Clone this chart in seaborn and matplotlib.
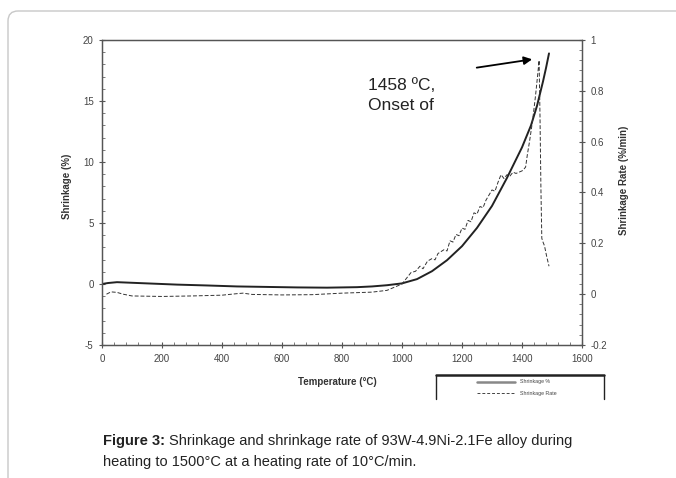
import numpy as np
import pandas as pd
import matplotlib
matplotlib.use("Agg")
import matplotlib.pyplot as plt
from matplotlib.patches import FancyBboxPatch
from matplotlib.lines import Line2D
from matplotlib.ticker import MultipleLocator
import seaborn as sns

# shrinkage curve (solid, left axis)
shrink_temp = [0, 20, 50, 80, 150, 250, 350, 450, 550, 650, 750, 850, 900, 950,
               1000, 1050, 1100, 1150, 1200, 1250, 1300, 1350, 1400, 1430, 1450,
               1460, 1470, 1480, 1490]
shrink_pct = [0.0, 0.08, 0.15, 0.12, 0.05, -0.05, -0.12, -0.2, -0.24, -0.28, -0.3,
              -0.26, -0.2, -0.1, 0.05, 0.4, 1.05, 1.95, 3.1, 4.6, 6.4, 8.7, 11.2,
              13.0, 14.6, 15.6, 16.6, 17.7, 18.9]

# shrinkage rate curve (dashed, right axis)
rate_temp = [15, 30, 50, 70, 100, 150, 200, 300, 400, 450, 470, 500, 600, 700, 800,
             850, 900, 950, 1000, 1020, 1030, 1045, 1060, 1070, 1085, 1100, 1110,
             1120, 1140, 1150, 1160, 1170, 1180, 1190, 1200, 1210, 1220, 1230, 1240,
             1250, 1260, 1270, 1280, 1290, 1300, 1310, 1320, 1330, 1340, 1350, 1360,
             1370, 1380, 1390, 1400, 1405, 1412, 1418, 1425, 1435, 1445, 1452, 1457,
             1460, 1463, 1466, 1470, 1475, 1482, 1490]
rate_val = [0.0, 0.009, 0.007, 0.0, -0.007, -0.008, -0.009, -0.007, -0.004, 0.002,
            0.004, -0.001, -0.003, -0.002, 0.004, 0.006, 0.008, 0.015, 0.04, 0.07,
            0.085, 0.09, 0.11, 0.10, 0.13, 0.14, 0.135, 0.16, 0.175, 0.17, 0.21,
            0.205, 0.235, 0.23, 0.26, 0.255, 0.29, 0.285, 0.32, 0.315, 0.345, 0.34,
            0.37, 0.39, 0.41, 0.405, 0.44, 0.47, 0.455, 0.47, 0.465, 0.48, 0.475,
            0.48, 0.485, 0.49, 0.50, 0.55, 0.60, 0.68, 0.78, 0.86, 0.92, 0.70, 0.42,
            0.22, 0.205, 0.19, 0.15, 0.11]

legend_labels = ["Shrinkage %", "Shrinkage Rate"]
caption_bold = "Figure 3:"
caption_line1 = "Shrinkage and shrinkage rate of 93W-4.9Ni-2.1Fe alloy during"
caption_line2 = "heating to 1500°C at a heating rate of 10°C/min."

shrink_df = pd.DataFrame({"temp": shrink_temp, "shrink": shrink_pct})
rate_df = pd.DataFrame({"temp": rate_temp, "rate": rate_val})

sns.set_style("ticks")
plt.rcParams["font.family"] = ["Liberation Sans", "DejaVu Sans"]
plt.rcParams["axes.unicode_minus"] = False

fig = plt.figure(figsize=(6.76, 4.78), dpi=100)
ax = fig.add_axes([102 / 676, 1 - 345 / 478, 480 / 676, 305 / 478])
ax2 = ax.twinx()

sns.lineplot(data=shrink_df, x="temp", y="shrink", ax=ax, color="#222222",
             linewidth=1.4, estimator=None, sort=False)
sns.lineplot(data=rate_df, x="temp", y="rate", ax=ax2, color="#333333",
             linewidth=0.7, linestyle=(0, (4, 2)), estimator=None, sort=False)

ax.set_xlim(0, 1600)
ax.set_ylim(-5, 20)
ax2.set_ylim(-0.2, 1.0)
ax.set_xticks(np.arange(0, 1601, 200))
ax.set_yticks(np.arange(-5, 21, 5))
ax2.set_yticks([-0.2, 0, 0.2, 0.4, 0.6, 0.8, 1])
ax2.set_yticklabels(["-0.2", "0", "0.2", "0.4", "0.6", "0.8", "1"])
ax.xaxis.set_minor_locator(MultipleLocator(40))
ax.yaxis.set_minor_locator(MultipleLocator(1))
ax2.yaxis.set_minor_locator(MultipleLocator(0.04))

for a in (ax, ax2):
    for s in a.spines.values():
        s.set_visible(True)
        s.set_color("#555555")
        s.set_linewidth(0.9)
    a.tick_params(which="major", direction="inout", length=5, width=0.8,
                  colors="#555555", labelsize=7, labelcolor="#444444")
    a.tick_params(which="minor", direction="in", length=2.5, width=0.6,
                  colors="#666666")
ax.tick_params(axis="x", pad=4)

ax.set_xlabel("Temperature (°C)", fontsize=7, fontweight="bold",
              color="#333333")
ax.xaxis.set_label_coords(0.49, -0.105)
ax.set_ylabel("Shrinkage (%)", fontsize=7, fontweight="bold", color="#333333")
ax.yaxis.set_label_coords(-0.063, 0.52)
ax2.set_ylabel("Shrinkage Rate (%/min)", fontsize=7, fontweight="bold",
               color="#333333")
ax2.yaxis.set_label_coords(1.077, 0.54)

# annotation
ax.annotate("", xy=(1443, 18.45), xytext=(1240, 17.7),
            arrowprops=dict(arrowstyle="-|>", color="black", lw=1.3,
                            mutation_scale=12))
ax.text(885, 16.3, "1458 ºC,", fontsize=12.5, color="#222222",
        ha="left", va="center")
ax.text(885, 14.6, "Onset of", fontsize=12.5, color="#222222",
        ha="left", va="center")

# legend box, open at bottom
lx0, lx1, ly_top, ly_bot = 436 / 676, 604 / 676, 1 - 375 / 478, 1 - 399 / 478
fig.add_artist(Line2D([lx0, lx1], [ly_top, ly_top], transform=fig.transFigure,
                      color="#222222", lw=1.8))
fig.add_artist(Line2D([lx0, lx0], [ly_top, ly_bot], transform=fig.transFigure,
                      color="#222222", lw=1.0))
fig.add_artist(Line2D([lx1, lx1], [ly_top, ly_bot], transform=fig.transFigure,
                      color="#222222", lw=1.0))
fig.add_artist(Line2D([477 / 676, 515 / 676], [1 - 382 / 478] * 2,
                      transform=fig.transFigure, color="#888888", lw=1.8))
fig.add_artist(Line2D([477 / 676, 515 / 676], [1 - 393 / 478] * 2,
                      transform=fig.transFigure, color="#444444", lw=0.7,
                      linestyle=(0, (3, 2))))
fig.text(520 / 676, 1 - 382 / 478, legend_labels[0], fontsize=3.8,
         color="#444444", va="center")
fig.text(520 / 676, 1 - 393 / 478, legend_labels[1], fontsize=3.8,
         color="#444444", va="center")

# card border
fig.patches.append(FancyBboxPatch((8, -30), 720, 478 - 11 + 30,
                                  boxstyle="round,pad=0,rounding_size=10",
                                  transform=None, facecolor="none",
                                  edgecolor="#c8c8c8", lw=1.0))

# caption
cap_bold = fig.text(103 / 676, 1 - 441 / 478, caption_bold, fontsize=10.5,
                    fontweight="bold", color="#222222", va="center")
fig.canvas.draw()
bb = cap_bold.get_window_extent()
fig.text((bb.x1 + 4) / 676, 1 - 441 / 478, caption_line1,
         fontsize=10.5, color="#222222", va="center")
fig.text(103 / 676, 1 - 462 / 478, caption_line2,
         fontsize=10.5, color="#222222", va="center")

fig.savefig("out.png", dpi=100)
